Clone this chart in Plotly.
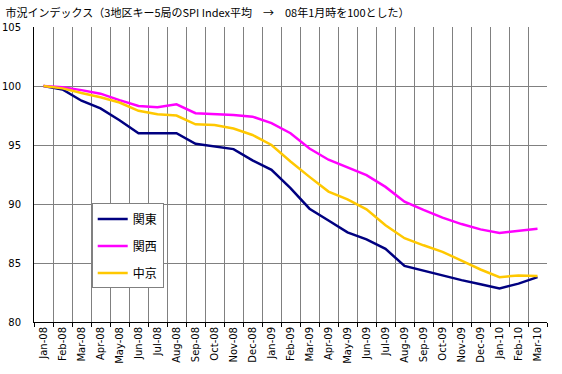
import plotly.graph_objects as go

months = ["Jan-08", "Feb-08", "Mar-08", "Apr-08", "May-08", "Jun-08", "Jul-08", "Aug-08",
          "Sep-08", "Oct-08", "Nov-08", "Dec-08", "Jan-09", "Feb-09", "Mar-09", "Apr-09",
          "May-09", "Jun-09", "Jul-09", "Aug-09", "Sep-09", "Oct-09", "Nov-09", "Dec-09",
          "Jan-10", "Feb-10", "Mar-10"]

kanto = [100, 99.7, 98.75, 98.1, 97.1, 96.0, 96.0, 96.0, 95.1, 94.9, 94.65, 93.7, 92.9,
         91.35, 89.6, 88.6, 87.6, 87.0, 86.2, 84.75, 84.35, 83.9, 83.55, 83.2, 82.85, 83.25, 83.8]
kansai = [100, 99.9, 99.65, 99.35, 98.8, 98.3, 98.2, 98.45, 97.7, 97.65, 97.55, 97.4, 96.85,
          96.0, 94.7, 93.75, 93.1, 92.45, 91.45, 90.2, 89.5, 88.85, 88.3, 87.85, 87.55, 87.75, 87.9]
chukyo = [100, 99.8, 99.4, 99.05, 98.6, 97.9, 97.6, 97.5, 96.75, 96.7, 96.4, 95.85, 95.0,
          93.6, 92.3, 91.05, 90.4, 89.55, 88.2, 87.1, 86.5, 85.95, 85.2, 84.45, 83.8, 83.95, 83.9]

series = [("関東", kanto, "#000080"), ("関西", kansai, "#FF00FF"), ("中京", chukyo, "#FFC800")]

y_ticks = [80, 85, 90, 95, 100, 105]
title_text = "市況インデックス（3地区キー5局のSPI Index平均　→　08年1月時を100とした）"

fig = go.Figure()
for name, vals, col in series:
    fig.add_trace(go.Scatter(x=months, y=vals, name=name, mode="lines",
                             legendgroup=name,
                             line=dict(color=col, width=2.5)))

fig.update_layout(
    width=562, height=374,
    margin=dict(l=34, r=15, t=27, b=52),
    paper_bgcolor="white", plot_bgcolor="white",
    font=dict(family="DejaVu Sans", size=10, color="black"),
    title=dict(text=title_text, x=0.01, xanchor="left", y=0.975, yanchor="top",
               font=dict(family="Noto Sans CJK JP", size=11, color="black")),
    showlegend=True,
    legend=dict(x=0.1125, y=0.402, xanchor="left", yanchor="top",
                bgcolor="white", bordercolor="#808080", borderwidth=1,
                font=dict(family="Noto Sans CJK JP", size=12, color="black"),
                tracegroupgap=8, itemwidth=30),
    xaxis=dict(type="category", range=[-0.5, 26.5], tickson="boundaries",
               ticks="outside", ticklen=4, tickcolor="black", automargin=False,
               showgrid=True, gridcolor="#808080", gridwidth=1,
               showline=True, linecolor="black", linewidth=1,
               tickangle=-90, tickfont=dict(family="DejaVu Sans", size=10)),
    yaxis=dict(range=[80, 105], tickvals=y_ticks, ticks="", ticklabelstandoff=10,
               automargin=False,
               showgrid=True, gridcolor="#808080", gridwidth=1,
               showline=True, linecolor="black", linewidth=1, zeroline=False,
               tickfont=dict(family="DejaVu Sans", size=10)),
)

fig.write_html("out.html", config={"displayModeBar": False},
               post_script="document.body.style.margin='0px';")
